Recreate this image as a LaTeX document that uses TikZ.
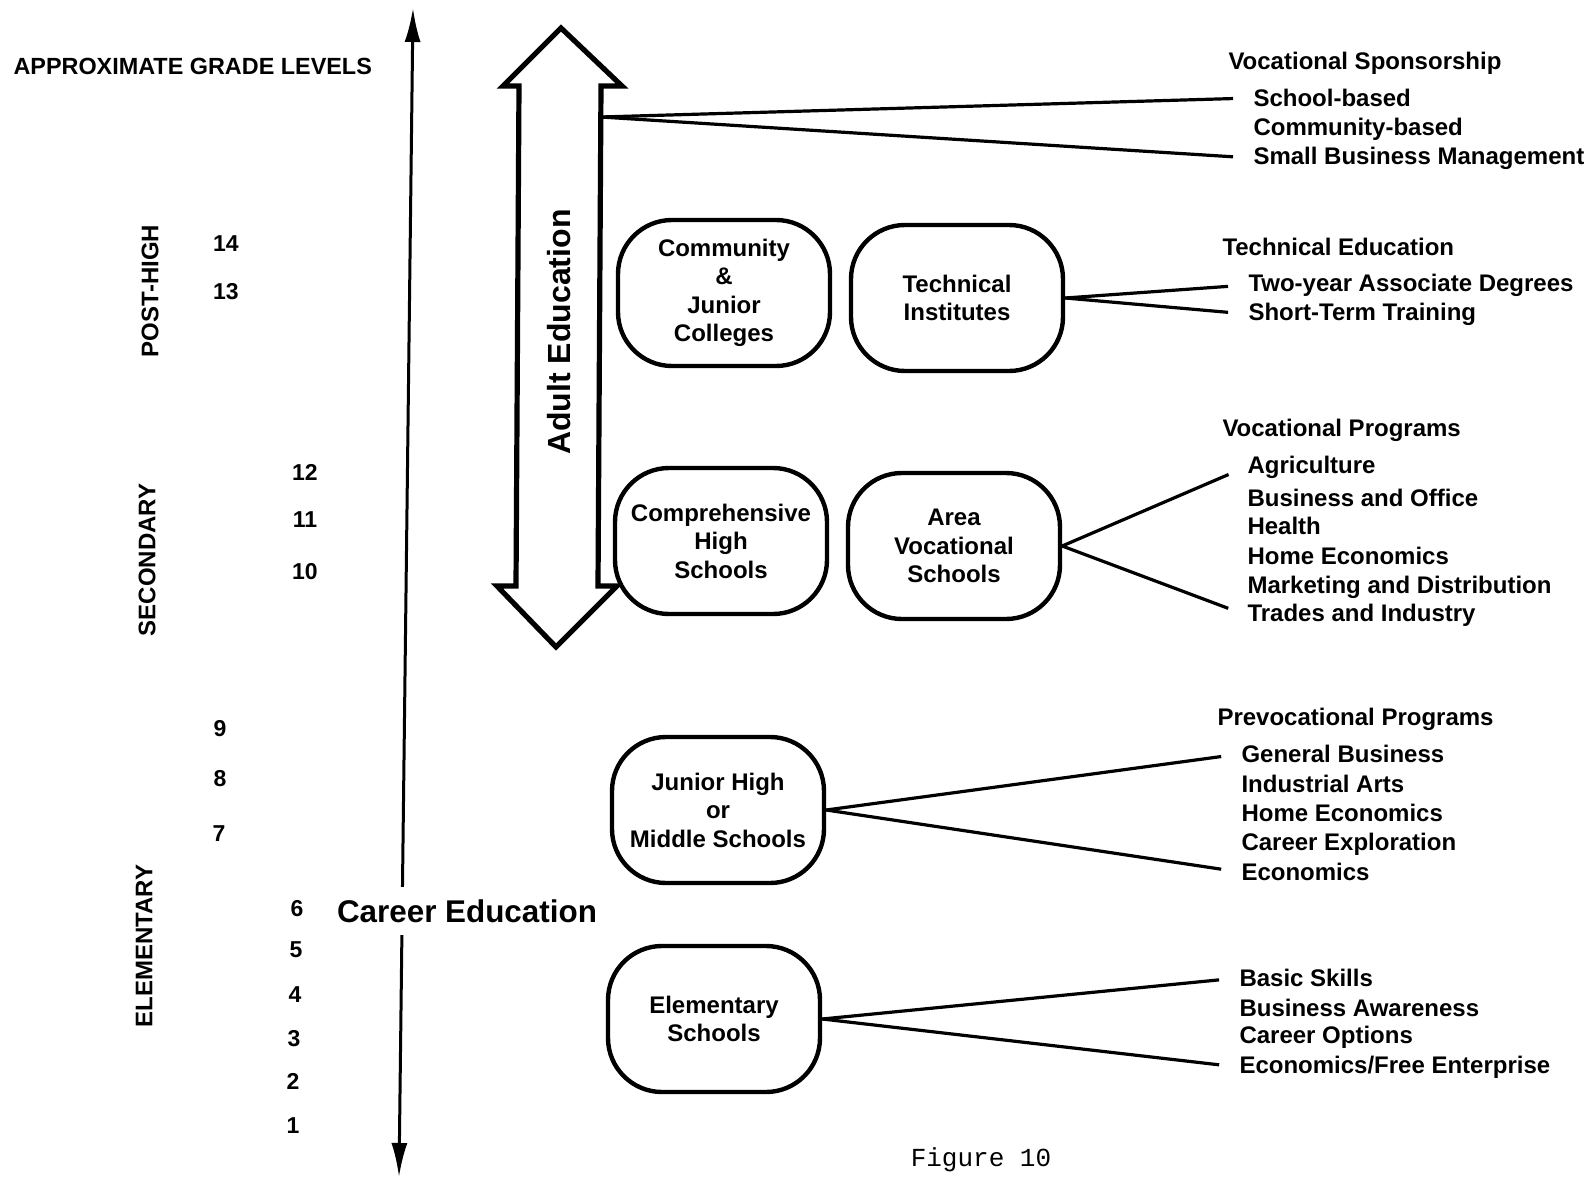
\documentclass[tikz,border=0pt]{standalone}
\usepackage{fontspec}
\setmainfont{Liberation Sans}
\newfontfamily\figfont{Liberation Mono}
\usetikzlibrary{arrows.meta}

\tikzset{every picture/.style={line width=1.5pt}}
\tikzset{
  school/.style={draw, rounded corners=27pt, line width=2.2pt, minimum width=106pt, minimum height=73pt, align=center, font=\bfseries\fontsize{12}{14.25}\selectfont},
  item/.style={anchor=west, inner sep=0pt, font=\bfseries\fontsize{12}{14}\selectfont},
  grade/.style={font=\bfseries\fontsize{11.5}{14}\selectfont},
  level/.style={rotate=90, font=\bfseries\fontsize{12}{14}\selectfont},
  link/.style={line width=1.6pt, shorten >=9.5pt},
}

\begin{document}
\begin{tikzpicture}[x=0.5pt,y=0.5pt,yscale=-1,xscale=1]
\useasboundingbox (0,0) rectangle (1592,1178);
% Title
\node (title) [anchor=west, inner sep=0pt, font=\bfseries\fontsize{11.7}{14}\selectfont] at (12,66) {APPROXIMATE GRADE LEVELS};
% Levels
\node (posthigh) [level] at (150,291) {POST-HIGH};
\node (secondary) [level] at (147,560) {SECONDARY};
\node (elementary) [level] at (144,946) {ELEMENTARY};
% Grades
\node (g14) [grade] at (226,244) {14};
\node (g13) [grade] at (226,292) {13};
\node (g12) [grade] at (305,472) {12};
\node (g11) [grade] at (305,520) {11};
\node (g10) [grade] at (305,572) {10};
\node (g9) [grade] at (220,729) {9};
\node (g8) [grade] at (220,779) {8};
\node (g7) [grade] at (219,834) {7};
\node (g6) [grade] at (297,909) {6};
\node (g5) [grade] at (296,950) {5};
\node (g4) [grade] at (295,995) {4};
\node (g3) [grade] at (294,1039) {3};
\node (g2) [grade] at (293,1081) {2};
\node (g1) [grade] at (293,1126) {1};
% Career axis
\coordinate (axtop) at (413,8);
\coordinate (axbot) at (399,1177);
\draw [{Latex[length=17pt,width=8pt]}-{Latex[length=17pt,width=8pt]}] (axbot) -- (axtop);
\node (career) [fill=white, inner xsep=2pt, inner ysep=6pt, font=\bfseries\fontsize{15.7}{18}\selectfont] at (467,911) {Career Education};
% Adult Education arrow
\draw [line width=2.6pt, line join=miter] (561,28) -- (622,86) -- (601,86) -- (598,586) -- (617,586) -- (556,647) -- (497,586) -- (516,586) -- (519,86) -- (503,86) -- cycle;
\node (adult) [rotate=90, font=\bfseries\fontsize{16}{18}\selectfont] at (559,332) {Adult Education};
\coordinate (adultR) at (601,117);
% Schools
\node (cjc) [school] at (724,293) {Community\\\&\\Junior\\Colleges};
\node (ti) [school] at (957,298) {Technical\\Institutes};
\node (chs) [school] at (721,541) {Comprehensive\\High\\Schools};
\node (avs) [school] at (954,546) {Area\\Vocational\\Schools};
\node (jh) [school] at (718,810) {Junior High\\or\\Middle Schools};
\node (es) [school] at (714,1019) {Elementary\\Schools};
% Vocational Sponsorship
\node (vshead) [item] at (1227,63) {Vocational Sponsorship};
\node (vs1) [item] at (1252,98) {School-based};
\node (vs2) [item] at (1252,129) {Community-based};
\node (vs3) [item] at (1252,158) {Small Business Management};
% Technical Education
\node (tehead) [item] at (1221,247) {Technical Education};
\node (te1) [item] at (1247,285) {Two-year Associate Degrees};
\node (te2) [item] at (1247,314) {Short-Term Training};
% Vocational Programs
\node (vphead) [item] at (1221,430) {Vocational Programs};
\node (vp1) [item] at (1246,467) {Agriculture};
\node (vp2) [item] at (1246,498) {Business and Office};
\node (vp3) [item] at (1246,526) {Health};
\node (vp4) [item] at (1246,556) {Home Economics};
\node (vp5) [item] at (1246,587) {Marketing and Distribution};
\node (vp6) [item] at (1246,615) {Trades and Industry};
% Prevocational Programs
\node (pvhead) [item] at (1216,719) {Prevocational Programs};
\node (pv1) [item] at (1240,754) {General Business};
\node (pv2) [item] at (1240,784) {Industrial Arts};
\node (pv3) [item] at (1240,813) {Home Economics};
\node (pv4) [item] at (1240,844) {Career Exploration};
\node (pv5) [item] at (1240,872) {Economics};
% Elementary topics
\node (el1) [item] at (1238,978) {Basic Skills};
\node (el2) [item] at (1238,1008) {Business Awareness};
\node (el3) [item] at (1238,1037) {Career Options};
\node (el4) [item] at (1238,1067) {Economics/Free Enterprise};
% Links
\draw [link] (adultR) -- (vs1.west);
\draw [link] (adultR) -- (vs3.west);
\draw [link] (ti.east) -- (te1.west);
\draw [link] (ti.east) -- (te2.west);
\draw [link] (avs.east) -- (vp1.west);
\draw [link] (avs.east) -- (vp6.west);
\draw [link] (jh.east) -- (pv1.west);
\draw [link] (jh.east) -- (pv5.west);
\draw [link] (es.east) -- (el1.west);
\draw [link] (es.east) -- (el4.west);
% Caption
\node (caption) [inner sep=0pt, font=\figfont\fontsize{13}{15}\selectfont] at (981,1160) {Figure 10};
\end{tikzpicture}
\end{document}
